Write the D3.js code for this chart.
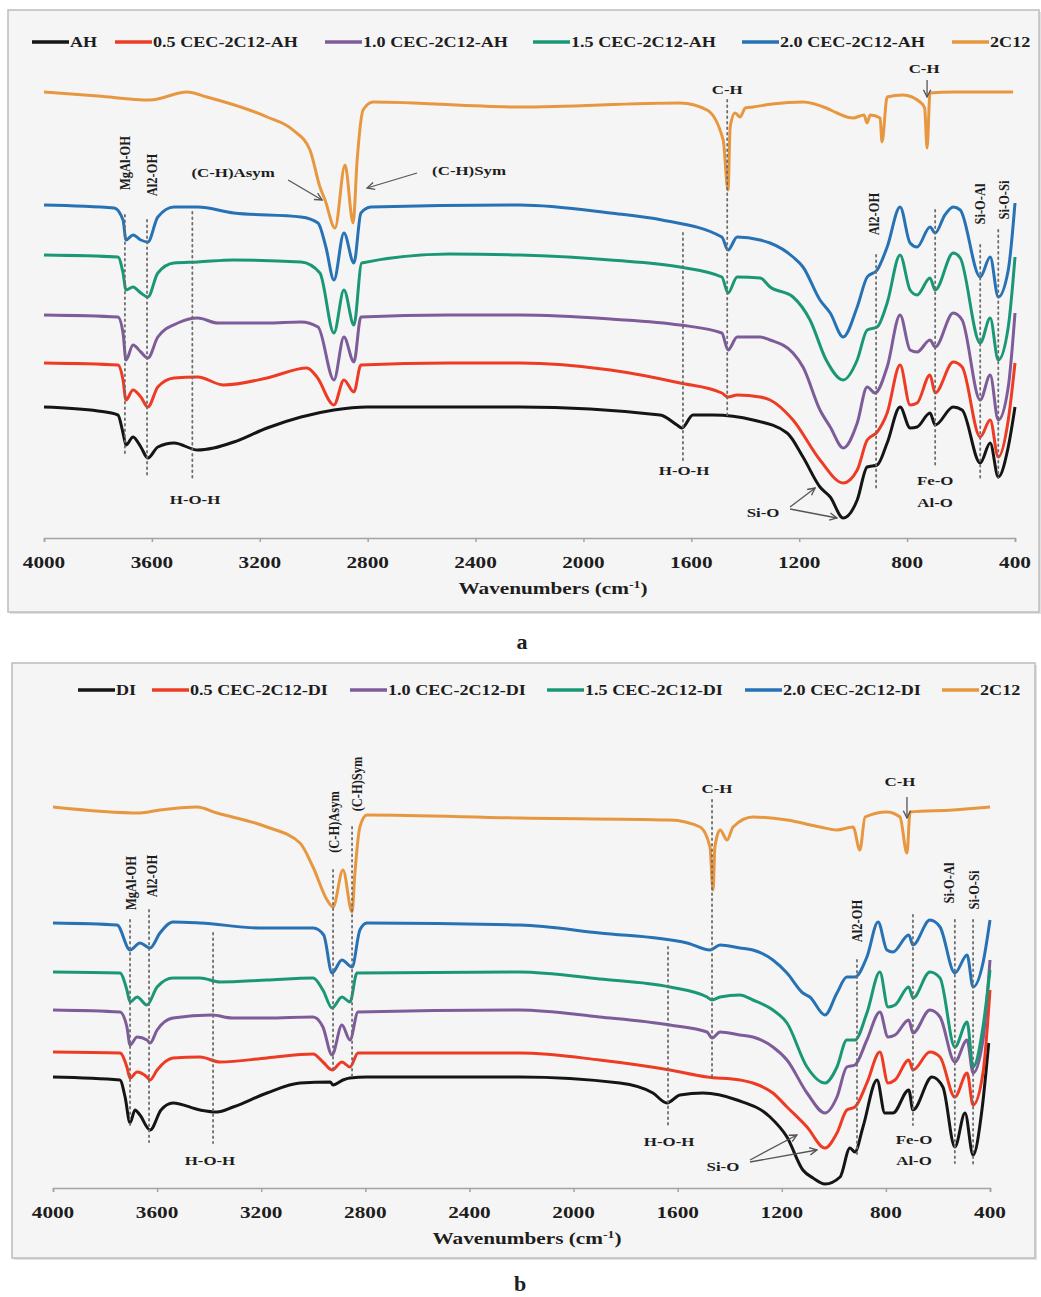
<!DOCTYPE html>
<html lang="en">
<head>
<meta charset="utf-8">
<title>FTIR spectra</title>
<script src="https://d3js.org/d3.v7.min.js"></script>
<style>
  body { margin: 0; background: #fff; }
  text { font-family: "Liberation Serif", "Times New Roman", serif; font-weight: bold; fill: #1d1d1d; }
</style>
</head>
<body>
<script>
// ---- data (wavenumber cm-1, transmittance a.u. with stacking offset) ----
var wnTicks = [4000, 3600, 3200, 2800, 2400, 2000, 1600, 1200, 800, 400];
var namesA = ["AH", "0.5 CEC-2C12-AH", "1.0 CEC-2C12-AH", "1.5 CEC-2C12-AH", "2.0 CEC-2C12-AH", "2C12"];
var namesB = ["DI", "0.5 CEC-2C12-DI", "1.0 CEC-2C12-DI", "1.5 CEC-2C12-DI", "2.0 CEC-2C12-DI", "2C12"];
var colors = ["#151515", "#ee3b24", "#7e5b99", "#1a9876", "#2672b5", "#e7973f"];

var a_AH = [[4000,26.2],[3800,25.4],[3726,24.6],[3707,21.0],[3696,18.6],[3670,20.2],[3641,18.2],[3615,16.0],[3578,18.2],[3518,19.0],[3430,17.6],[3371,18.0],[3296,19.2],[3173,22.0],[3047,24.2],[2925,25.6],[2802,26.2],[2235,26.2],[1716,24.6],[1653,22.6],[1635,22.0],[1594,24.6],[1520,24.6],[1371,23.6],[1245,21.0],[1186,16.2],[1123,10.2],[1085,8.2],[1037,4.0],[985,7.6],[948,14.2],[911,14.6],[874,19.0],[826,26.2],[789,22.0],[763,22.2],[715,25.0],[696,22.6],[629,26.2],[596,25.6],[529,15.0],[492,19.0],[462,12.2],[425,18.2],[400,26.2]];
var a_05 = [[4000,35.0],[3726,34.6],[3707,31.6],[3696,27.6],[3670,29.6],[3641,28.2],[3615,26.2],[3578,30.2],[3518,32.0],[3430,32.2],[3334,30.6],[3173,32.0],[3025,34.0],[2988,32.2],[2925,26.6],[2888,31.6],[2851,29.2],[2825,34.6],[2500,35.0],[2235,35.0],[1900,33.6],[1642,31.0],[1487,29.0],[1464,28.2],[1430,28.6],[1345,28.2],[1308,27.6],[1223,23.6],[1123,15.6],[1037,11.0],[985,13.6],[948,19.6],[911,21.2],[874,25.0],[826,34.6],[789,26.6],[763,27.0],[715,32.6],[696,29.0],[629,35.2],[596,34.2],[529,20.2],[492,23.6],[462,16.2],[425,23.6],[400,35.0]];
var a_10 = [[4000,44.6],[3726,44.2],[3707,41.0],[3696,35.6],[3670,38.6],[3641,37.2],[3615,36.0],[3578,40.2],[3504,43.0],[3430,44.0],[3356,43.0],[3173,43.0],[3047,43.2],[2984,42.2],[2925,31.6],[2888,40.2],[2851,35.2],[2825,44.2],[2500,44.6],[2235,44.6],[1900,43.8],[1642,42.6],[1487,41.0],[1464,37.6],[1430,40.2],[1345,40.2],[1308,39.6],[1223,37.0],[1186,34.2],[1123,25.6],[1085,22.2],[1037,18.0],[985,23.0],[948,30.2],[919,29.0],[874,34.2],[826,44.6],[789,37.6],[763,37.2],[715,39.6],[696,38.2],[629,45.0],[596,43.6],[529,27.6],[492,32.6],[462,23.6],[425,30.2],[400,45.0]];
var a_15 = [[4000,56.6],[3726,56.2],[3707,53.0],[3696,49.6],[3670,50.2],[3641,49.0],[3615,48.2],[3578,53.0],[3518,55.0],[3430,55.2],[3296,55.6],[3047,55.2],[2977,53.0],[2925,41.0],[2888,49.6],[2851,42.6],[2822,55.0],[2500,56.8],[2235,56.6],[1900,55.6],[1642,54.2],[1487,52.2],[1464,49.0],[1430,52.2],[1345,52.0],[1308,50.2],[1223,48.2],[1160,43.6],[1100,35.6],[1037,31.6],[985,35.6],[948,41.6],[911,42.2],[874,47.0],[826,56.6],[789,49.6],[763,48.6],[715,52.0],[696,49.6],[629,57.0],[603,56.0],[529,39.0],[492,44.0],[462,35.6],[425,42.2],[400,56.2]];
var a_20 = [[4000,66.6],[3740,66.0],[3707,63.6],[3696,59.6],[3670,60.6],[3641,59.6],[3615,59.2],[3578,64.2],[3518,66.2],[3430,66.2],[3296,65.0],[3047,64.2],[2984,63.0],[2955,58.2],[2925,51.6],[2888,61.0],[2851,55.0],[2825,65.0],[2788,66.2],[2235,66.6],[1900,65.0],[1709,63.6],[1487,60.2],[1464,57.6],[1430,60.2],[1345,59.6],[1308,59.0],[1223,56.2],[1186,54.2],[1123,47.6],[1085,45.0],[1037,40.2],[985,46.2],[948,52.2],[911,53.6],[874,58.2],[826,66.2],[789,59.0],[763,58.2],[715,62.2],[696,61.0],[660,64.6],[629,66.2],[603,65.6],[529,52.2],[492,56.2],[462,48.2],[425,53.6],[400,67.0]];
var a_2C12 = [[4000,89.2],[3800,88.4],[3607,87.6],[3470,89.2],[3396,88.2],[3173,84.2],[3077,81.6],[3014,77.6],[2977,70.2],[2958,67.6],[2921,62.0],[2884,74.6],[2854,63.0],[2839,75.6],[2817,85.6],[2780,87.2],[2235,86.2],[1642,87.0],[1542,85.6],[1482,79.6],[1464,69.6],[1456,82.2],[1438,85.0],[1419,84.2],[1400,86.0],[1371,86.2],[1300,86.8],[1186,87.2],[1100,86.0],[1060,85.0],[1000,84.0],[960,84.6],[948,83.0],[937,84.6],[900,84.0],[893,79.2],[874,88.2],[815,88.6],[752,87.2],[735,86.0],[726,78.0],[715,89.0],[629,89.2],[407,89.2]];

var b_DI = [[4000,22.2],[3743,21.6],[3723,18.2],[3704,13.0],[3685,15.6],[3666,14.6],[3627,11.6],[3585,15.6],[3539,17.0],[3435,15.6],[3370,15.2],[3308,16.2],[3178,19.0],[3051,21.0],[2935,21.2],[2924,20.6],[2886,21.6],[2859,22.0],[2794,22.2],[2206,22.2],[1822,21.0],[1695,19.0],[1641,17.0],[1591,18.6],[1503,19.0],[1372,17.6],[1245,14.2],[1180,10.2],[1119,3.6],[1080,2.0],[1034,0.8],[976,2.2],[938,8.0],[919,7.2],[888,12.2],[834,21.6],[804,15.0],[773,15.0],[712,19.6],[696,15.6],[623,22.2],[581,20.2],[535,8.2],[496,15.0],[465,6.6],[431,15.6],[405,29.0]];
var b_05 = [[4000,27.2],[3743,27.0],[3716,24.2],[3704,22.0],[3677,23.2],[3639,22.2],[3627,21.6],[3600,23.6],[3539,26.0],[3435,26.2],[3358,25.2],[3178,26.0],[3001,26.8],[2963,25.2],[2928,23.6],[2890,25.2],[2859,24.2],[2828,27.0],[2206,27.0],[1900,25.6],[1630,23.6],[1487,22.2],[1361,21.6],[1311,21.0],[1234,19.0],[1180,16.2],[1103,12.2],[1034,8.0],[988,11.0],[950,15.6],[919,16.2],[873,21.0],[823,27.2],[792,21.0],[765,21.6],[712,25.6],[696,23.6],[631,27.2],[592,26.2],[535,18.2],[488,23.0],[465,16.6],[427,23.0],[400,39.6]];
var b_10 = [[4000,35.6],[3743,35.2],[3716,32.2],[3704,28.6],[3677,30.2],[3639,29.6],[3627,29.0],[3600,31.6],[3539,34.0],[3389,34.6],[3312,34.0],[3178,34.0],[3001,34.2],[2963,32.2],[2928,26.6],[2890,32.6],[2859,29.6],[2828,35.2],[2206,35.6],[1900,34.2],[1630,32.6],[1487,31.2],[1468,30.0],[1437,31.2],[1361,30.6],[1311,30.2],[1234,28.2],[1180,25.6],[1103,19.0],[1034,15.0],[988,18.2],[950,24.2],[919,24.6],[873,29.6],[823,35.2],[792,30.2],[765,30.6],[712,33.6],[696,31.0],[631,35.6],[592,34.2],[535,25.2],[488,29.6],[465,23.0],[427,29.6],[400,45.6]];
var b_15 = [[4000,43.2],[3743,43.0],[3716,39.6],[3704,37.2],[3677,38.2],[3639,36.6],[3600,40.2],[3539,42.0],[3435,42.0],[3358,41.2],[3178,41.6],[3001,42.0],[2963,39.6],[2928,36.0],[2890,38.2],[2859,37.2],[2832,43.0],[2206,43.2],[1900,41.8],[1630,40.2],[1487,38.2],[1468,37.6],[1437,38.2],[1361,38.6],[1311,37.6],[1234,35.6],[1180,33.0],[1103,24.2],[1034,21.0],[988,24.2],[950,29.6],[919,29.6],[873,35.0],[823,43.2],[792,36.2],[765,36.6],[712,40.2],[696,38.0],[631,43.2],[592,42.0],[535,28.2],[488,33.2],[465,24.2],[427,32.2],[400,43.6]];
var b_20 = [[4000,53.0],[3754,52.6],[3704,47.6],[3666,49.0],[3627,48.0],[3589,51.0],[3539,53.2],[3435,53.0],[3200,52.0],[3000,52.0],[2960,50.6],[2928,43.0],[2890,45.6],[2851,44.2],[2821,51.6],[2794,53.0],[2206,52.6],[1900,51.0],[1564,49.0],[1476,47.6],[1437,48.6],[1361,48.0],[1311,47.6],[1234,45.6],[1180,43.0],[1119,39.0],[1092,38.2],[1034,34.6],[988,39.0],[950,42.2],[919,42.2],[873,46.2],[830,53.2],[796,47.6],[773,47.2],[712,50.6],[696,48.6],[631,53.6],[592,52.2],[535,43.0],[488,46.6],[465,40.2],[427,45.0],[400,53.6]];
var b_2C12 = [[4000,76.2],[3666,75.0],[3589,75.6],[3447,76.2],[3370,75.0],[3178,72.2],[3051,69.0],[3001,64.2],[2947,57.6],[2924,56.2],[2886,63.6],[2851,55.2],[2840,63.0],[2821,72.2],[2794,74.6],[2206,74.0],[1630,73.6],[1514,72.2],[1476,68.2],[1464,59.6],[1457,68.2],[1437,71.6],[1410,69.6],[1387,72.2],[1311,74.2],[1180,73.6],[1053,72.2],[988,71.6],[926,72.2],[900,67.6],[880,74.2],[796,75.2],[746,74.2],[719,67.0],[707,75.2],[542,75.6],[400,76.2]];

// ---- layout ----
var W = 1041, H = 1297, SX = 1.25;
var svg = d3.select("body").append("svg").attr("width", W).attr("height", H);
var defs = svg.append("defs");
defs.append("marker").attr("id", "arr").attr("viewBox", "0 0 10 10")
    .attr("refX", 9).attr("refY", 5).attr("markerWidth", 7).attr("markerHeight", 7)
    .attr("orient", "auto")
  .append("path").attr("d", "M1,1 L9,5 L1,9").attr("fill", "none")
    .attr("stroke", "#555").attr("stroke-width", 1.5);

var panels = [
  { series: [a_AH, a_05, a_10, a_15, a_20, a_2C12], names: namesA,
    frame: [8, 10, 1031, 602], xr: [44, 1015], yr: [538, 38],
    tickY: 562, title: [553, 588], legendY: 42, legendX: [32, 115, 325, 533, 742, 952],
    letter: ["a", 522, 641],
    guides: [[3700,64.6,16.6],[3618,63.6,12.6],[3450,65.2,11.6],[1467,87.6,24.6],[1631,61,15.6],[915,56.6,9.6],[696,65.6,14.2],[529,58.6,11.6],[462,61.6,12]],
    labels: [["MgAl-OH",3700,75,1],["Al2-OH",3603,72.6,1],["(C-H)Asym",3299,73.2,0],["(C-H)Sym",2424,73.6,0],
             ["C-H",1467,89.8,0],["C-H",737,94,0],["Al2-OH",926,64.8,1],["Si-O-Al",533,66.8,1],["Si-O-Si",444,67.6,1],
             ["H-O-H",3440,7.8,0],["H-O-H",1627,13.6,0],["Si-O",1334,5.2,0],["Fe-O",696,11.6,0],["Al-O",696,7.2,0]],
    arrows: [[3095,71.6,2969,67.6],[2617,73,2802,70],[1234,6.2,1141,10],[1234,5.8,1060,4],[726,91.6,726,88.2]] },
  { series: [b_DI, b_05, b_10, b_15, b_20, b_2C12], names: namesB,
    frame: [12, 663, 1023, 595], xr: [53, 990], yr: [1188, 688],
    tickY: 1212, title: [527, 1238], legendY: 690, legendX: [78, 152, 350, 547, 745, 942],
    letter: ["b", 520, 1283],
    guides: [[3704,53.6,12.2],[3631,55.6,9.2],[3385,51,9],[2924,63.6,23],[2851,72.2,22.2],[1468,77.6,21.6],[1637,48.2,12.2],[911,45.6,6.2],[696,54.6,12.6],[535,53.6,5],[465,53.6,4.2]],
    labels: [["MgAl-OH",3704,61,1],["Al2-OH",3620,62.4,1],["(C-H)Asym",2924,73.2,1],["(C-H)Sym",2832,80.8,1],
             ["C-H",1449,80,0],["C-H",746,81.4,0],["Al2-OH",911,53.4,1],["Si-O-Al",558,61,1],["Si-O-Si",465,59.6,1],
             ["H-O-H",3397,5.6,0],["H-O-H",1633,9.4,0],["Si-O",1426,4.4,0],["Fe-O",692,9.8,0],["Al-O",692,5.6,0]],
    arrows: [[1322,5.6,1142,10.6],[1322,5.2,1065,7.6],[719,78.2,719,74]] }
];

panels.forEach(function(p) {
  var g = svg.append("g");
  var x = d3.scaleLinear().domain([4000, 400]).range(p.xr);
  var y = d3.scaleLinear().domain([0, 100]).range(p.yr);

  // frame
  g.append("rect").attr("x", p.frame[0] + 2).attr("y", p.frame[1] + 2)
    .attr("width", p.frame[2]).attr("height", p.frame[3]).attr("fill", "#e2e2e2");
  g.append("rect").attr("x", p.frame[0]).attr("y", p.frame[1])
    .attr("width", p.frame[2]).attr("height", p.frame[3])
    .attr("fill", "#f6f5f5").attr("stroke", "#bcbcbc").attr("stroke-width", 1.5);

  // x axis
  var axis = g.append("g").attr("transform", "translate(0," + y(0) + ")")
    .call(d3.axisBottom(x).tickValues(wnTicks).tickSize(4).tickFormat(""));
  axis.select(".domain").attr("stroke", "#a3a3a3").attr("stroke-width", 1.5);
  axis.selectAll(".tick line").attr("stroke", "#a3a3a3").attr("stroke-width", 1.5);
  g.selectAll(".ticklbl").data(wnTicks).enter().append("text")
    .attr("transform", function(d) { return "translate(" + x(d) + "," + p.tickY + ") scale(" + SX + ",1)"; })
    .attr("text-anchor", "middle").attr("dy", "0.35em").attr("font-size", 17)
    .text(function(d) { return d; });
  var t = g.append("text")
    .attr("transform", "translate(" + p.title[0] + "," + p.title[1] + ") scale(" + SX + ",1)")
    .attr("text-anchor", "middle").attr("dy", "0.35em").attr("font-size", 17);
  t.append("tspan").text("Wavenumbers  (cm");
  t.append("tspan").attr("baseline-shift", "super").attr("font-size", 11).text("-1");
  t.append("tspan").text(")");

  // spectra
  var line = d3.line()
    .x(function(d) { return x(d[0]); })
    .y(function(d) { return y(d[1]); })
    .curve(d3.curveMonotoneX);
  p.series.forEach(function(s, i) {
    var pts = s.slice().sort(function(a, b) { return b[0] - a[0]; });
    g.append("path").datum(pts).attr("d", line)
      .attr("fill", "none").attr("stroke", colors[i]).attr("stroke-width", 3)
      .attr("stroke-linejoin", "round");
  });

  // dotted guide lines
  p.guides.forEach(function(d) {
    g.append("line").attr("x1", x(d[0])).attr("x2", x(d[0]))
      .attr("y1", y(d[1])).attr("y2", y(d[2]))
      .attr("stroke", "#6d6d6d").attr("stroke-width", 1.8)
      .attr("stroke-dasharray", "1.5,4").attr("stroke-linecap", "round");
  });

  // arrows
  p.arrows.forEach(function(d) {
    g.append("line").attr("x1", x(d[0])).attr("y1", y(d[1]))
      .attr("x2", x(d[2])).attr("y2", y(d[3]))
      .attr("stroke", "#555").attr("stroke-width", 1.3)
      .attr("marker-end", "url(#arr)");
  });

  // band labels
  p.labels.forEach(function(d) {
    var tr = "translate(" + x(d[1]) + "," + y(d[2]) + ") scale(" + SX + ",1)";
    if (d[3]) tr += " rotate(-90)";
    g.append("text").attr("transform", tr)
      .attr("text-anchor", "middle").attr("dy", "0.35em")
      .attr("font-size", d[3] ? 12.5 : 13.5).text(d[0]);
  });

  // legend
  p.names.forEach(function(n, i) {
    var lx = p.legendX[i];
    g.append("line").attr("x1", lx).attr("x2", lx + 37)
      .attr("y1", p.legendY).attr("y2", p.legendY)
      .attr("stroke", colors[i]).attr("stroke-width", 3.5);
    g.append("text")
      .attr("transform", "translate(" + (lx + 38) + "," + p.legendY + ") scale(" + SX + ",1)")
      .attr("dy", "0.35em").attr("font-size", 14.5).text(n);
  });

  svg.append("text").attr("x", p.letter[1]).attr("y", p.letter[2])
    .attr("text-anchor", "middle").attr("dy", "0.35em").attr("font-size", 22)
    .text(p.letter[0]);
});
</script>
</body>
</html>
